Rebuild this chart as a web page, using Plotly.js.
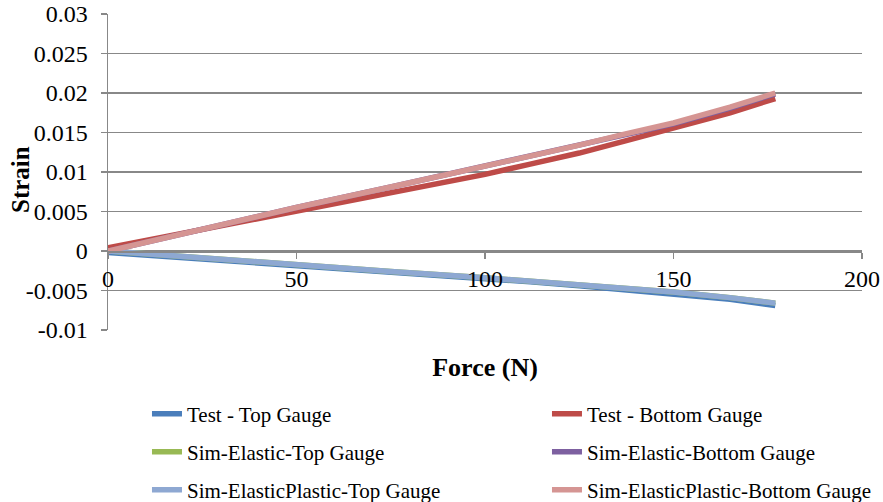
<!DOCTYPE html>
<html>
<head>
<meta charset="utf-8">
<script src="https://cdn.plot.ly/plotly-3.0.1.min.js"></script>
<style>html,body{margin:0;padding:0;background:#fff}#chart{width:883px;height:502px}</style>
</head>
<body>
<div id="chart"></div>
<script>
// ---- data ----
const seriesNames = [
  "Test - Top Gauge",
  "Test - Bottom Gauge",
  "Sim-Elastic-Top Gauge",
  "Sim-Elastic-Bottom Gauge",
  "Sim-ElasticPlastic-Top Gauge",
  "Sim-ElasticPlastic-Bottom Gauge"
];
const forceN = [0, 25, 50, 75, 100, 112, 125, 137, 150, 165, 177];
const testTop = [-0.0002, -0.0010, -0.0018, -0.0026, -0.0035, -0.0039, -0.0044, -0.0049, -0.0054, -0.0061, -0.0069];
const testBottom = [0.0004, 0.0027, 0.0050, 0.0073, 0.0097, 0.0110, 0.0124, 0.0139, 0.0155, 0.0175, 0.0193];
const simElasticTop = [0, -0.0009, -0.0017, -0.0026, -0.0034, -0.0038, -0.0043, -0.0047, -0.0052, -0.0059, -0.0066];
const simElasticBottom = [0, 0.0028, 0.0055, 0.0081, 0.0107, 0.0120, 0.0134, 0.0147, 0.0161, 0.0181, 0.0199];
const simEPTop = [0, -0.0009, -0.0017, -0.0026, -0.0034, -0.0038, -0.0043, -0.0047, -0.0052, -0.0059, -0.0066];
const simEPBottom = [0, 0.0028, 0.0055, 0.0081, 0.0107, 0.0120, 0.0134, 0.0148, 0.0162, 0.0182, 0.0200];
const yTickVals = [-0.01, -0.005, 0, 0.005, 0.01, 0.015, 0.02, 0.025, 0.03];
const yTickText = ["-0.01", "-0.005", "0", "0.005", "0.01", "0.015", "0.02", "0.025", "0.03"];
const xTickVals = [0, 50, 100, 150, 200];
const xTickText = ["0", "50", "100", "150", "200"];
const xTitle = "Force (N)";
const yTitle = "Strain";

const seriesY = [testTop, testBottom, simElasticTop, simElasticBottom, simEPTop, simEPBottom];
const colors = ["#4A7EBB", "#BE4B48", "#98B954", "#7D60A0", "#8EA8D2", "#D59593"];
const legendIds = ["legend", "legend2", "legend3", "legend4", "legend5", "legend6"];

const FONT = '"Liberation Serif", "Times New Roman", serif';
const gridCol = "#888888";

const traces = seriesNames.map((name, i) => ({
  type: "scatter",
  mode: "lines",
  name: name,
  x: forceN,
  y: seriesY[i],
  line: {color: colors[i], width: 5.5},
  legend: legendIds[i]
}));

const legendCols = [0.0517, 0.5822];
const legendRows = [-0.2658, -0.3861, -0.5063];
function legendAt(i) {
  return {
    orientation: "v",
    x: legendCols[i % 2], xanchor: "left",
    y: legendRows[Math.floor(i / 2)], yanchor: "middle",
    font: {family: FONT, size: 21, color: "#000"},
    bgcolor: "rgba(0,0,0,0)",
    borderwidth: 0
  };
}

const layout = {
  width: 883, height: 502,
  margin: {l: 108, r: 21, t: 14, b: 172, autoexpand: false},
  paper_bgcolor: "#fff", plot_bgcolor: "#fff",
  font: {family: FONT, size: 24, color: "#000"},
  showlegend: true,
  xaxis: {
    range: [0, 200],
    tickvals: xTickVals, ticktext: xTickText,
    anchor: "free", position: 0.25,
    showgrid: false, zeroline: false,
    showline: true, linecolor: gridCol, linewidth: 1.5,
    ticks: "outside", ticklen: 6, tickcolor: gridCol, tickwidth: 1.5,
    ticklabelstandoff: 0,
    tickfont: {family: FONT, size: 24, color: "#000"},
    title: {text: "<b>" + xTitle + "</b>", font: {family: FONT, size: 26, color: "#000"}, standoff: 66}
  },
  yaxis: {
    range: [-0.01, 0.03],
    tickvals: yTickVals, ticktext: yTickText,
    showgrid: true, gridcolor: gridCol, gridwidth: 1.5,
    zeroline: false,
    showline: true, linecolor: gridCol, linewidth: 1.5,
    ticks: "outside", ticklen: 6, tickcolor: gridCol, tickwidth: 1.5,
    ticklabelstandoff: 8,
    tickfont: {family: FONT, size: 24, color: "#000"}
  },
  annotations: [{
    text: "<b>" + yTitle + "</b>",
    xref: "paper", yref: "paper",
    x: (20 - 108) / 754, y: (330 - 180) / 316,
    xanchor: "center", yanchor: "middle",
    textangle: -90, showarrow: false,
    font: {family: FONT, size: 25, color: "#000"}
  }]
};
legendIds.forEach((id, i) => { layout[id] = legendAt(i); });

Plotly.newPlot("chart", traces, layout, {displayModeBar: false, staticPlot: true});
</script>
</body>
</html>
